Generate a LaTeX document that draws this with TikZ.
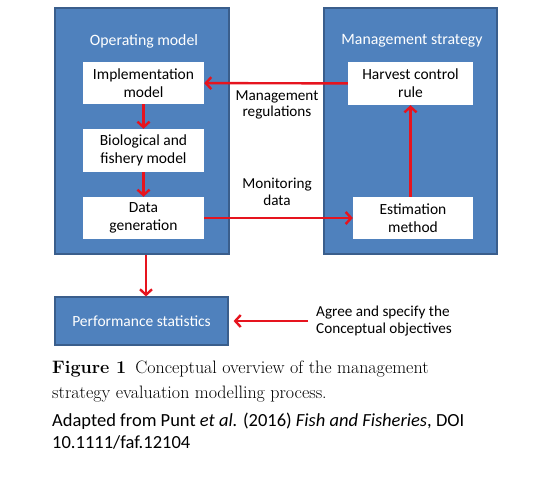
\documentclass[tikz,border=0pt]{standalone}
\usepackage{fontspec}
\setsansfont{Carlito}
\usetikzlibrary{arrows.meta,positioning}
\definecolor{mseblue}{RGB}{79,129,189}
\definecolor{mseedge}{RGB}{58,94,140}
\definecolor{msered}{RGB}{230,20,30}
\tikzset{
  panel/.style={fill=mseblue, draw=mseedge, line width=1.2pt, inner sep=0pt},
  wbox/.style={fill=white, align=center, inner sep=0pt,
    font=\sffamily\fontsize{15.5}{18}\selectfont},
  ptitle/.style={text=white, font=\sffamily\fontsize{15.8}{18}\selectfont},
  lbl/.style={align=center, font=\sffamily\fontsize{15.2}{16.5}\selectfont},
  rarr/.style={draw=msered, line width=2.4pt, -{Straight Barb[length=5.5pt,width=12pt]}},
  caprm/.style={anchor=base west, inner sep=0pt, font=\rmfamily\fontsize{18}{21}\selectfont},
  capsf/.style={anchor=base west, inner sep=0pt, font=\sffamily\fontsize{18.5}{21}\selectfont}
}
\begin{document}
\begin{tikzpicture}[x=1pt,y=-1pt]
  \useasboundingbox (0,0) rectangle (538,480);

  % panels
  \node[panel, minimum width=174pt, minimum height=246pt] (opm) at (142,131) {};
  \node[panel, minimum width=173pt, minimum height=246pt] (mstr) at (410.5,131) {};
  \node[ptitle] (opmtitle) at (144,41) {Operating model};
  \node[ptitle] (mstrtitle) at (412,41) {Management strategy};

  % operating model boxes
  \node[wbox, minimum width=121pt, minimum height=42pt] (impl) at (143.5,83) {Implementation\\model};
  \node[wbox, minimum width=121pt, minimum height=43pt] (bio) at (143.5,150.5) {Biological and\\fishery model};
  \node[wbox, minimum width=121pt, minimum height=42pt] (datagen) at (143.5,218) {Data\\generation};

  % management strategy boxes
  \node[wbox, minimum width=125pt, minimum height=43pt] (hcr) at (410.5,83.5) {Harvest control\\rule};
  \node[wbox, minimum width=120pt, minimum height=42pt] (estim) at (413,218) {Estimation\\method};

  % performance
  \node[panel, minimum width=173pt, minimum height=48pt, text=white,
    font=\sffamily\fontsize{15.5}{17}\selectfont] (perf) at (141.5,321) {Performance statistics};
  \node[lbl, align=left, anchor=west, inner sep=0pt] (agree) at (316,321) {Agree and specify the\\Conceptual objectives};

  % labels
  \node[lbl] (regs) at (277,105) {Management\\regulations};
  \node[lbl] (monit) at (277,192) {Monitoring\\data};

  % connectors
  \draw[rarr] (impl) -- (bio);
  \draw[rarr] (bio) -- (datagen);
  \draw[rarr] (hcr) -- (impl);
  \draw[rarr] (datagen) -- (estim);
  \draw[rarr] (estim.north -| hcr) -- (hcr);
  \draw[rarr] ([xshift=4pt]opm.south) -- ([xshift=4.5pt]perf.north);
  \draw[rarr] ([xshift=-8pt]agree.west) -- ([xshift=5pt]perf.east);

  % caption
  \node[caprm] (cap1) at (52,373) {\textbf{Figure 1}\enspace Conceptual overview of the management};
  \node[caprm] (cap2) at (52,398) {strategy evaluation modelling process.};
  \node[capsf] (cap3) at (52,426) {Adapted from Punt \textit{et al.} (2016) \textit{Fish and Fisheries}, DOI};
  \node[capsf] (cap4) at (52,448) {10.1111/faf.12104};
\end{tikzpicture}
\end{document}
